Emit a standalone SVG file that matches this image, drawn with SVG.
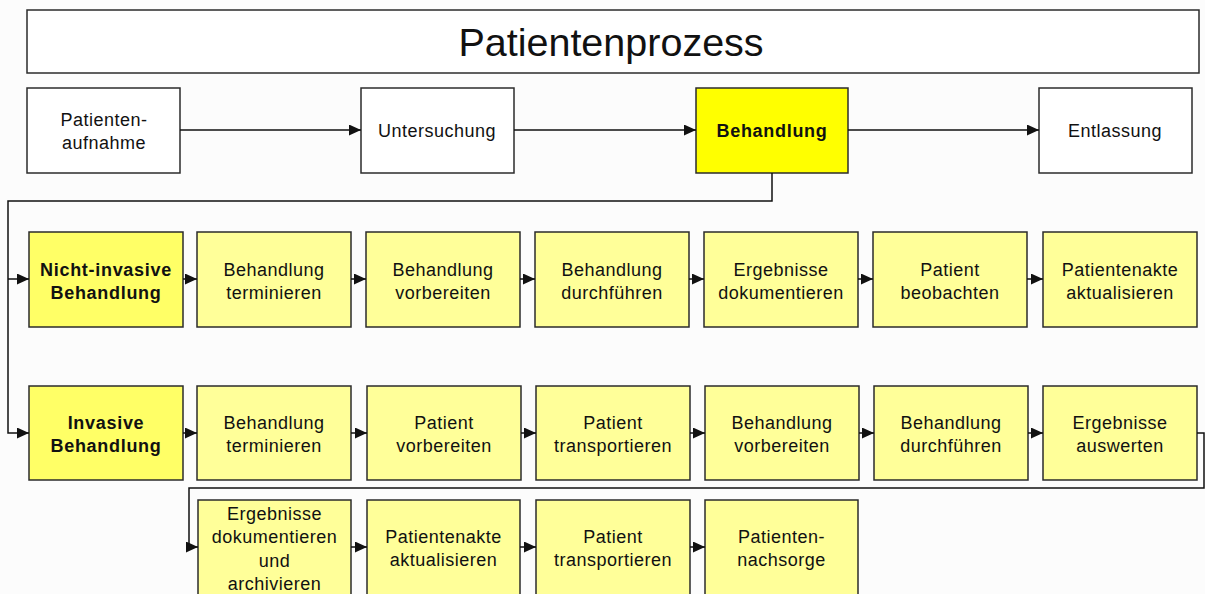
<svg xmlns="http://www.w3.org/2000/svg" width="1205" height="594" viewBox="0 0 1205 594">
  <defs>
    <marker id="arrow" viewBox="0 0 12 11" refX="12" refY="5.5" markerWidth="12" markerHeight="11" markerUnits="userSpaceOnUse" orient="auto">
      <path d="M0,0 L12,5.5 L0,11 Z" fill="#111"/>
    </marker>
    <style>
      .box { stroke: #2b2b2b; stroke-width: 1.5; }
      .white { fill: #ffffff; }
      .main { fill: #ffff00; }
      .sub { fill: #ffff66; }
      .step { fill: #ffff99; }
      .t { font-family: "Liberation Sans", Arial, sans-serif; font-size: 18px; letter-spacing: 0.5px; fill: #111; text-anchor: middle; }
      .b { font-weight: bold; letter-spacing: 0.7px; }
      .title { font-family: "Liberation Sans", Arial, sans-serif; font-size: 39.5px; fill: #111; text-anchor: middle; }
      .conn { fill: none; stroke: #111; stroke-width: 1.5; }
    </style>
  </defs>

  <rect width="1205" height="594" fill="#fcfcfc"/>

  <!-- title bar -->
  <g id="title">
    <rect class="box white" x="27" y="10" width="1172" height="63"/>
    <text class="title" x="611" y="56">Patientenprozess</text>
  </g>

  <!-- main process -->
  <g id="aufnahme">
    <rect class="box white" x="27" y="88" width="153" height="85"/>
    <text class="t" x="104" y="126">Patienten-</text>
    <text class="t" x="104" y="149">aufnahme</text>
  </g>
  <g id="untersuchung">
    <rect class="box white" x="361" y="88" width="153" height="85"/>
    <text class="t" x="437" y="137">Untersuchung</text>
  </g>
  <g id="behandlung">
    <rect class="box main" x="696" y="88" width="152" height="85"/>
    <text class="t b" x="772" y="137">Behandlung</text>
  </g>
  <g id="entlassung">
    <rect class="box white" x="1039" y="88" width="153" height="85"/>
    <text class="t" x="1115" y="137">Entlassung</text>
  </g>

  <!-- non-invasive treatment -->
  <g id="nichtinvasiv">
    <rect class="box sub" x="29" y="232" width="154" height="95"/>
    <text class="t b" x="106" y="276">Nicht-invasive</text>
    <text class="t b" x="106" y="299">Behandlung</text>
  </g>
  <g id="ni-terminieren">
    <rect class="box step" x="197" y="232" width="154" height="95"/>
    <text class="t" x="274" y="276">Behandlung</text>
    <text class="t" x="274" y="299">terminieren</text>
  </g>
  <g id="ni-vorbereiten">
    <rect class="box step" x="366" y="232" width="154" height="95"/>
    <text class="t" x="443" y="276">Behandlung</text>
    <text class="t" x="443" y="299">vorbereiten</text>
  </g>
  <g id="ni-durchfuehren">
    <rect class="box step" x="535" y="232" width="154" height="95"/>
    <text class="t" x="612" y="276">Behandlung</text>
    <text class="t" x="612" y="299">durchführen</text>
  </g>
  <g id="ni-dokumentieren">
    <rect class="box step" x="704" y="232" width="154" height="95"/>
    <text class="t" x="781" y="276">Ergebnisse</text>
    <text class="t" x="781" y="299">dokumentieren</text>
  </g>
  <g id="ni-beobachten">
    <rect class="box step" x="873" y="232" width="154" height="95"/>
    <text class="t" x="950" y="276">Patient</text>
    <text class="t" x="950" y="299">beobachten</text>
  </g>
  <g id="ni-akte">
    <rect class="box step" x="1043" y="232" width="154" height="95"/>
    <text class="t" x="1120" y="276">Patientenakte</text>
    <text class="t" x="1120" y="299">aktualisieren</text>
  </g>

  <!-- invasive treatment -->
  <g id="invasiv">
    <rect class="box sub" x="29" y="386" width="154" height="94"/>
    <text class="t b" x="106" y="429">Invasive</text>
    <text class="t b" x="106" y="452">Behandlung</text>
  </g>
  <g id="i-terminieren">
    <rect class="box step" x="197" y="386" width="154" height="94"/>
    <text class="t" x="274" y="429">Behandlung</text>
    <text class="t" x="274" y="452">terminieren</text>
  </g>
  <g id="i-patient-vorbereiten">
    <rect class="box step" x="367" y="386" width="154" height="94"/>
    <text class="t" x="444" y="429">Patient</text>
    <text class="t" x="444" y="452">vorbereiten</text>
  </g>
  <g id="i-transport1">
    <rect class="box step" x="536" y="386" width="154" height="94"/>
    <text class="t" x="613" y="429">Patient</text>
    <text class="t" x="613" y="452">transportieren</text>
  </g>
  <g id="i-vorbereiten">
    <rect class="box step" x="705" y="386" width="154" height="94"/>
    <text class="t" x="782" y="429">Behandlung</text>
    <text class="t" x="782" y="452">vorbereiten</text>
  </g>
  <g id="i-durchfuehren">
    <rect class="box step" x="874" y="386" width="154" height="94"/>
    <text class="t" x="951" y="429">Behandlung</text>
    <text class="t" x="951" y="452">durchführen</text>
  </g>
  <g id="i-auswerten">
    <rect class="box step" x="1043" y="386" width="154" height="94"/>
    <text class="t" x="1120" y="429">Ergebnisse</text>
    <text class="t" x="1120" y="452">auswerten</text>
  </g>

  <g id="i-archivieren">
    <rect class="box step" x="198" y="500" width="153" height="96"/>
    <text class="t" x="274.5" y="520">Ergebnisse</text>
    <text class="t" x="274.5" y="543">dokumentieren</text>
    <text class="t" x="274.5" y="567">und</text>
    <text class="t" x="274.5" y="590">archivieren</text>
  </g>
  <g id="i-akte">
    <rect class="box step" x="367" y="500" width="153" height="96"/>
    <text class="t" x="443.5" y="543">Patientenakte</text>
    <text class="t" x="443.5" y="566">aktualisieren</text>
  </g>
  <g id="i-transport2">
    <rect class="box step" x="536" y="500" width="154" height="96"/>
    <text class="t" x="613" y="543">Patient</text>
    <text class="t" x="613" y="566">transportieren</text>
  </g>
  <g id="i-nachsorge">
    <rect class="box step" x="705" y="500" width="153" height="96"/>
    <text class="t" x="781.5" y="543">Patienten-</text>
    <text class="t" x="781.5" y="566">nachsorge</text>
  </g>

  <!-- connectors -->
  <g id="connectors">
    <path class="conn" d="M180,130 H361" marker-end="url(#arrow)"/>
    <path class="conn" d="M514,130 H696" marker-end="url(#arrow)"/>
    <path class="conn" d="M848,130 H1039" marker-end="url(#arrow)"/>

    <path class="conn" d="M772,173 V201 H8 V433 H29" marker-end="url(#arrow)"/>
    <path class="conn" d="M8,279 H29" marker-end="url(#arrow)"/>

    <path class="conn" d="M183,279 H197" marker-end="url(#arrow)"/>
    <path class="conn" d="M351,279 H366" marker-end="url(#arrow)"/>
    <path class="conn" d="M520,279 H535" marker-end="url(#arrow)"/>
    <path class="conn" d="M689,279 H704" marker-end="url(#arrow)"/>
    <path class="conn" d="M858,279 H873" marker-end="url(#arrow)"/>
    <path class="conn" d="M1027,279 H1043" marker-end="url(#arrow)"/>

    <path class="conn" d="M183,433 H197" marker-end="url(#arrow)"/>
    <path class="conn" d="M351,433 H367" marker-end="url(#arrow)"/>
    <path class="conn" d="M521,433 H536" marker-end="url(#arrow)"/>
    <path class="conn" d="M690,433 H705" marker-end="url(#arrow)"/>
    <path class="conn" d="M859,433 H874" marker-end="url(#arrow)"/>
    <path class="conn" d="M1028,433 H1043" marker-end="url(#arrow)"/>

    <path class="conn" d="M1197,433 H1204 V488 H189 V547 H198" marker-end="url(#arrow)"/>

    <path class="conn" d="M351,547 H367" marker-end="url(#arrow)"/>
    <path class="conn" d="M520,547 H536" marker-end="url(#arrow)"/>
    <path class="conn" d="M690,547 H705" marker-end="url(#arrow)"/>
  </g>
</svg>
